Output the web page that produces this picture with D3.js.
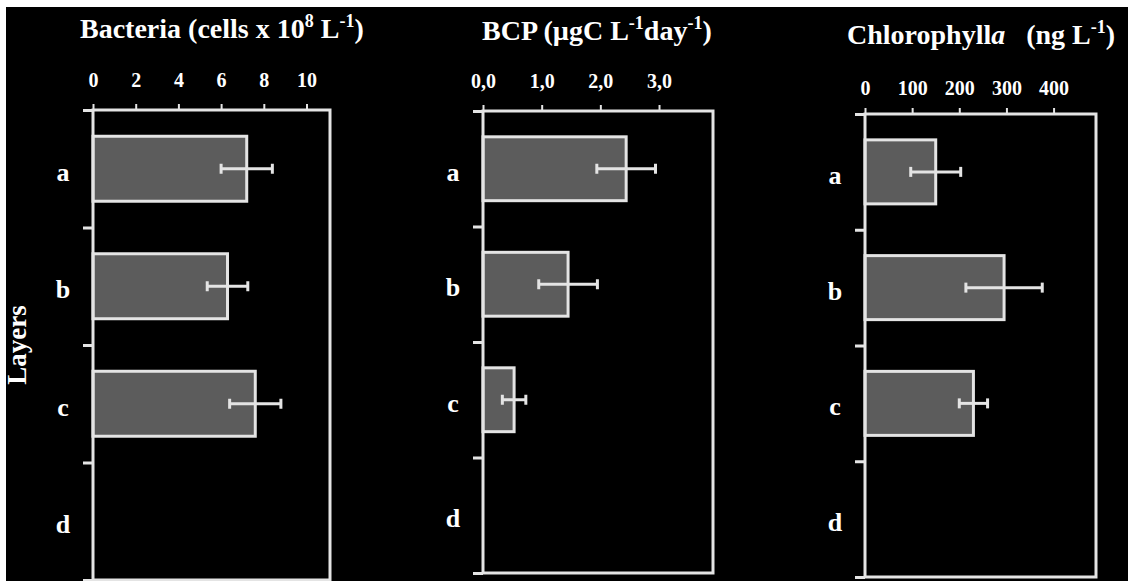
<!DOCTYPE html>
<html>
<head>
<meta charset="utf-8">
<script src="https://cdn.jsdelivr.net/npm/d3@7"></script>
<style>
  body { margin: 0; background: #fff; }
  svg { display: block; }
</style>
</head>
<body>
<svg id="chart" width="1128" height="581"></svg>
<script>
// layers shown on the left of every panel
const layers = ["a", "b", "c", "d"];

// bacteria (cells x 10^8 L-1)
const bacteriaMean = [7.2, 6.3, 7.6, null];
const bacteriaErr = [1.2, 0.95, 1.2, null];
const bacteriaTicks = [0, 2, 4, 6, 8, 10];
const bacteriaMax = 11.1;

// BCP (ugC L-1 day-1)
const bcpMean = [2.44, 1.45, 0.53, null];
const bcpErr = [0.5, 0.5, 0.2, null];
const bcpTicks = [0, 1, 2, 3];
const bcpMax = 3.92;

// chlorophyll a (ng L-1)
const chlMean = [150, 295, 230, null];
const chlErr = [53, 81, 30, null];
const chlTicks = [0, 100, 200, 300, 400];
const chlMax = 490;

const font = "'Liberation Serif', 'Times New Roman', serif";
const lineColor = "#e4e4e4";
const barColor = "#5c5c5c";

const svg = d3.select("#chart");

svg.append("rect")
   .attr("x", 6).attr("y", 7)
   .attr("width", 1122).attr("height", 574)
   .attr("fill", "#000");

const panels = [
  {
    mean: bacteriaMean, err: bacteriaErr, ticks: bacteriaTicks, max: bacteriaMax,
    fmt: d => d,
    x0: 93, x1: 330, y0: 110, y1: 580, tickGap: 23, labelX: 63,
    titleX: 80, titleY: 38,
    title: [{t: "Bacteria (cells x 10"}, {t: "8", sup: true}, {t: " L"}, {t: "-1", sup: true}, {t: ")"}]
  },
  {
    mean: bcpMean, err: bcpErr, ticks: bcpTicks, max: bcpMax,
    fmt: d => d.toFixed(1).replace(".", ","),
    x0: 483, x1: 713, y0: 111, y1: 573, tickGap: 23, labelX: 453,
    titleX: 482, titleY: 40,
    title: [{t: "BCP (\u00b5gC L"}, {t: "-1", sup: true}, {t: "day"}, {t: "-1", sup: true}, {t: ")"}]
  },
  {
    mean: chlMean, err: chlErr, ticks: chlTicks, max: chlMax,
    fmt: d => d,
    x0: 865, x1: 1096, y0: 114, y1: 577, tickGap: 19, labelX: 835,
    titleX: 847, titleY: 44,
    title: [{t: "Chlorophyll"}, {t: "a", italic: true}, {t: "\u00a0\u00a0\u00a0(ng L"}, {t: "-1", sup: true}, {t: ")"}]
  }
];

panels.forEach(p => {
  const x = d3.scaleLinear().domain([0, p.max]).range([p.x0, p.x1]);
  const y = d3.scaleBand().domain(layers).range([p.y0, p.y1])
              .paddingInner(0.447).paddingOuter(0.2235);
  const yEdge = d3.scaleLinear().domain([0, layers.length]).range([p.y0, p.y1]);

  const g = svg.append("g");

  // top value axis
  g.append("g")
   .attr("transform", "translate(0," + p.y0 + ")")
   .call(d3.axisTop(x).tickValues(p.ticks).tickFormat(p.fmt)
           .tickSize(6).tickSizeOuter(0).tickPadding(p.tickGap - 6))
   .call(a => a.select(".domain").remove())
   .call(a => a.selectAll("line").attr("stroke", lineColor).attr("stroke-width", 2))
   .call(a => a.selectAll("text")
               .attr("fill", "#fff")
               .attr("font-family", font)
               .attr("font-weight", "bold")
               .attr("font-size", 20));

  // left ticks between layers
  g.append("g")
   .attr("transform", "translate(" + p.x0 + ",0)")
   .call(d3.axisLeft(yEdge).tickValues(d3.range(layers.length + 1))
           .tickFormat("").tickSize(10).tickSizeOuter(0))
   .call(a => a.select(".domain").remove())
   .call(a => a.selectAll("line").attr("stroke", lineColor).attr("stroke-width", 3));

  // layer labels
  g.selectAll(".layer")
   .data(layers)
   .enter()
   .append("text")
   .attr("x", p.labelX)
   .attr("y", d => y(d) + y.bandwidth() / 2 + 12)
   .attr("text-anchor", "middle")
   .attr("fill", "#fff")
   .attr("font-family", font)
   .attr("font-weight", "bold")
   .attr("font-size", 26)
   .text(d => d);

  const rows = layers.map((l, i) => ({layer: l, mean: p.mean[i], err: p.err[i]}))
                     .filter(d => d.mean != null);

  // bars
  g.selectAll(".bar")
   .data(rows)
   .enter()
   .append("rect")
   .attr("x", x(0))
   .attr("y", d => y(d.layer))
   .attr("width", d => x(d.mean) - x(0))
   .attr("height", y.bandwidth())
   .attr("fill", barColor)
   .attr("stroke", lineColor)
   .attr("stroke-width", 3);

  // error bars
  const eb = g.selectAll(".err")
              .data(rows)
              .enter()
              .append("g")
              .attr("stroke", lineColor)
              .attr("stroke-width", 3);
  eb.append("line")
    .attr("x1", d => x(d.mean - d.err))
    .attr("x2", d => x(d.mean + d.err))
    .attr("y1", d => y(d.layer) + y.bandwidth() / 2)
    .attr("y2", d => y(d.layer) + y.bandwidth() / 2);
  [-1, 1].forEach(s => {
    eb.append("line")
      .attr("x1", d => x(d.mean + s * d.err))
      .attr("x2", d => x(d.mean + s * d.err))
      .attr("y1", d => y(d.layer) + y.bandwidth() / 2 - 5)
      .attr("y2", d => y(d.layer) + y.bandwidth() / 2 + 5);
  });

  // frame
  g.append("rect")
   .attr("x", p.x0).attr("y", p.y0)
   .attr("width", p.x1 - p.x0).attr("height", p.y1 - p.y0)
   .attr("fill", "none")
   .attr("stroke", lineColor)
   .attr("stroke-width", 3);

  // title
  const title = g.append("text")
                 .attr("x", p.titleX)
                 .attr("y", p.titleY)
                 .attr("fill", "#fff")
                 .attr("font-family", font)
                 .attr("font-weight", "bold")
                 .attr("font-size", 28);
  let raised = false;
  p.title.forEach(part => {
    const ts = title.append("tspan").text(part.t);
    if (part.sup) {
      ts.attr("font-size", 18).attr("dy", raised ? 0 : -11);
      raised = true;
    } else {
      if (raised) ts.attr("dy", 11);
      raised = false;
    }
    if (part.italic) ts.attr("font-style", "italic");
  });
});

svg.append("text")
   .attr("transform", "translate(26,345) rotate(-90)")
   .attr("text-anchor", "middle")
   .attr("fill", "#fff")
   .attr("font-family", font)
   .attr("font-weight", "bold")
   .attr("font-size", 27)
   .text("Layers");
</script>
</body>
</html>
